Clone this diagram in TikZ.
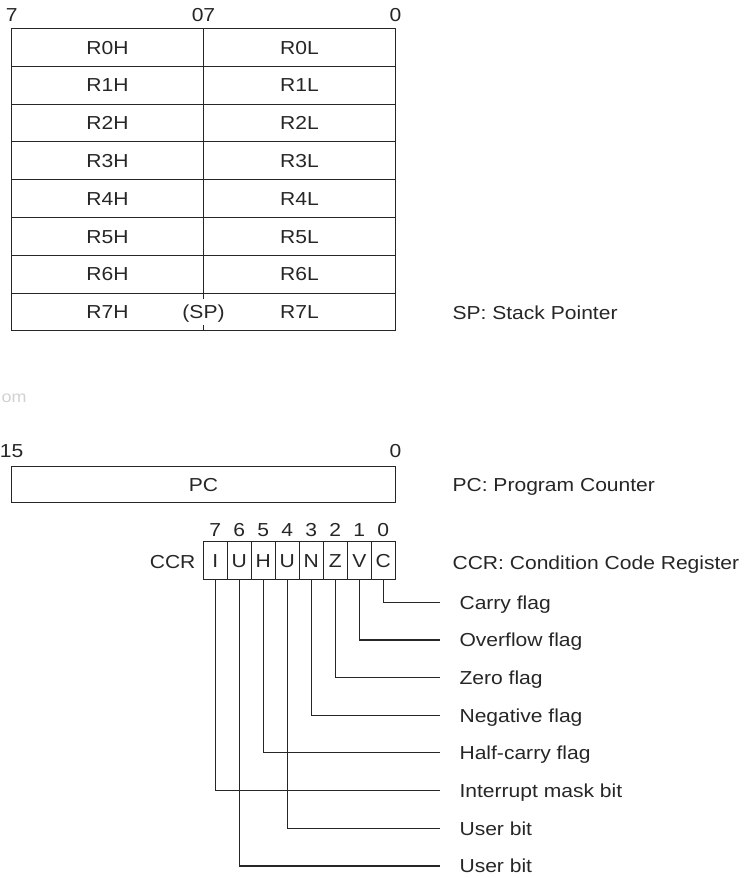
\documentclass[tikz,border=0pt]{standalone}
\usepackage{fontspec}
\setmainfont{Liberation Sans}[FakeStretch=1.12]

\begin{document}
\begin{tikzpicture}[x=1pt, y=-1pt, line width=1.1pt, color=black!85,
  every node/.style={font=\fontsize{18.8}{22}\selectfont, text height=13.5pt, text depth=0pt},
  half/.style={shape=rectangle, draw, minimum width=192, minimum height=37.8, inner sep=0, outer sep=0},
  bitcell/.style={shape=rectangle, draw, minimum width=24, minimum height=37.6, inner sep=0, outer sep=0},
  note/.style={anchor=west, inner sep=0},
  flag/.style={anchor=west, inner sep=0}]
\useasboundingbox (0,0) rectangle (745,878);
% general registers
\node at (11.7, 15) (b7) {7};
\node at (203.5, 15) (b07) {07};
\node at (395.5, 15) (b0) {0};
\node[half] at (107.5, 47.4) (r0h) {R0H};
\node[half] at (299.5, 47.4) (r0l) {R0L};
\node[half] at (107.5, 85.2) (r1h) {R1H};
\node[half] at (299.5, 85.2) (r1l) {R1L};
\node[half] at (107.5, 123.0) (r2h) {R2H};
\node[half] at (299.5, 123.0) (r2l) {R2L};
\node[half] at (107.5, 160.8) (r3h) {R3H};
\node[half] at (299.5, 160.8) (r3l) {R3L};
\node[half] at (107.5, 198.6) (r4h) {R4H};
\node[half] at (299.5, 198.6) (r4l) {R4L};
\node[half] at (107.5, 236.4) (r5h) {R5H};
\node[half] at (299.5, 236.4) (r5l) {R5L};
\node[half] at (107.5, 274.2) (r6h) {R6H};
\node[half] at (299.5, 274.2) (r6l) {R6L};
\node[half] at (107.5, 312.0) (r7h) {R7H};
\node[half] at (299.5, 312.0) (r7l) {R7L};
\node[fill=white, inner xsep=1, inner ysep=6] at (203.5, 312.0) (sp) {(SP)};
\node[note] at (452, 313) (spnote) {SP: Stack Pointer};
\node[anchor=west, inner sep=0, text=black!18, font=\fontsize{16}{20}\selectfont] at (1, 396) (wm) {om};
% program counter
\node at (11.7, 451) (p15) {15};
\node at (395.5, 451) (p0) {0};
\node[half, minimum width=384, minimum height=36] at (203.5, 484.7) (pc) {PC};
\node[note] at (452, 485) (pcnote) {PC: Program Counter};
% condition code register
\node at (215.3, 530) (d7) {7};
\node at (239.3, 530) (d6) {6};
\node at (263.3, 530) (d5) {5};
\node at (287.3, 530) (d4) {4};
\node at (311.3, 530) (d3) {3};
\node at (335.3, 530) (d2) {2};
\node at (359.3, 530) (d1) {1};
\node at (383.3, 530) (d0) {0};
\node[anchor=east, inner sep=0] at (196, 561.5) (ccr) {CCR};
\node[bitcell] at (215.3, 560.5) (ci) {I};
\node[bitcell] at (239.3, 560.5) (cu6) {U};
\node[bitcell] at (263.3, 560.5) (ch) {H};
\node[bitcell] at (287.3, 560.5) (cu4) {U};
\node[bitcell] at (311.3, 560.5) (cn) {N};
\node[bitcell] at (335.3, 560.5) (cz) {Z};
\node[bitcell] at (359.3, 560.5) (cv) {V};
\node[bitcell] at (383.3, 560.5) (cc) {C};
\node[note] at (452, 562.5) (ccrnote) {CCR: Condition Code Register};
% flag names
\node[flag] at (459, 602.3) (carry) {Carry flag};
\node[flag] at (459, 640.0) (overflow) {Overflow flag};
\node[flag] at (459, 677.7) (zero) {Zero flag};
\node[flag] at (459, 715.3) (negative) {Negative flag};
\node[flag] at (459, 752.7) (halfcarry) {Half-carry flag};
\node[flag] at (459, 790.7) (intmask) {Interrupt mask bit};
\node[flag] at (459, 828.3) (user4) {User bit};
\node[flag] at (459, 866.0) (user6) {User bit};
\draw (cc.south) |- ([xshift=-19]carry.west);
\draw (cv.south) |- ([xshift=-19]overflow.west);
\draw (cz.south) |- ([xshift=-19]zero.west);
\draw (cn.south) |- ([xshift=-19]negative.west);
\draw (ch.south) |- ([xshift=-19]halfcarry.west);
\draw (ci.south) |- ([xshift=-19]intmask.west);
\draw (cu4.south) |- ([xshift=-19]user4.west);
\draw (cu6.south) |- ([xshift=-19]user6.west);
\end{tikzpicture}
\end{document}
